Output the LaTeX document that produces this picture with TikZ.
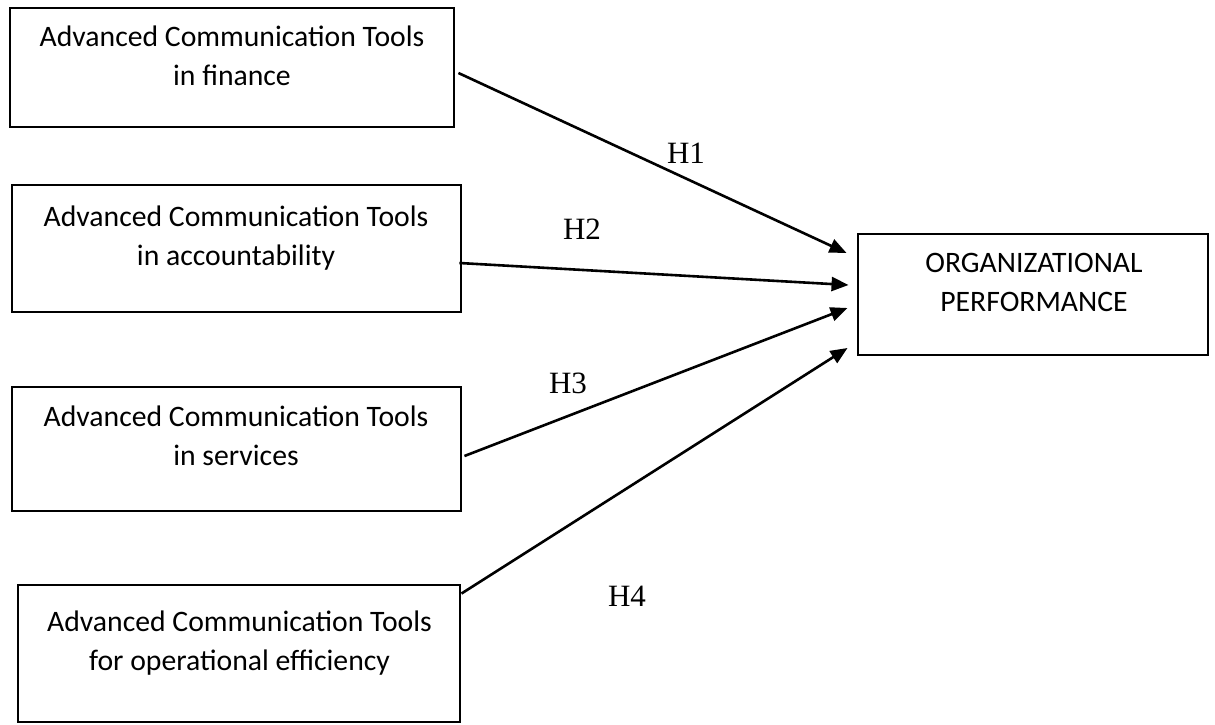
\documentclass[tikz,border=0pt]{standalone}
\usepackage{fontspec}
\setmainfont{Carlito}
\newfontfamily\hfont{Liberation Serif}
\usetikzlibrary{arrows.meta,calc}
\tikzset{
  box/.style={draw=black, line width=2.9pt, fill=none, inner sep=0pt},
  boxtext/.style={align=center, inner sep=0pt, font=\fontsize{29.7}{38.5}\selectfont},
  hlabel/.style={inner sep=0pt, font=\hfont\fontsize{31}{31}\selectfont},
  conn/.style={line width=2.6pt, -{Triangle[length=17pt,width=14pt]}}
}
\begin{document}
\begin{tikzpicture}[x=1pt,y=-1pt]
\useasboundingbox (0,0) rectangle (1215,724);
\fill[white] (0,0) rectangle (1215,724);
% boxes
\node[box, minimum width=444pt, minimum height=119pt] (b1) at (232,67.5) {};
\node[box, minimum width=449pt, minimum height=127pt] (b2) at (236.5,248.5) {};
\node[box, minimum width=449pt, minimum height=124pt] (b3) at (236.5,449) {};
\node[box, minimum width=442pt, minimum height=137pt] (b4) at (239,653.5) {};
\node[box, minimum width=350pt, minimum height=121pt] (op) at (1033,294.5) {};
% texts
\node[boxtext] (t1) at (232,58.5) {\strut Advanced Communication Tools\\\strut in finance};
\node[boxtext] (t2) at (236,238.5) {\strut Advanced Communication Tools\\\strut in accountability};
\node[boxtext] (t3) at (236,438.5) {\strut Advanced Communication Tools\\\strut in services};
\node[boxtext] (t4) at (239.5,643.5) {\strut Advanced Communication Tools\\\strut for operational efficiency};
\node[boxtext] (t5) at (1034,284.5) {\strut ORGANIZATIONAL\\\strut PERFORMANCE};
% connector end points
\coordinate (s1) at ($(b1.east)+(3,5.5)$);
\coordinate (s2) at ($(b2.east)+(-3,14.5)$);
\coordinate (s3) at ($(b3.east)+(2,7)$);
\coordinate (s4) at ($(b4.north east)+(0,10)$);
\coordinate (e1) at ($(op.west)+(-10,-41.5)$);
\coordinate (e2) at ($(op.west)+(-8,-9.5)$);
\coordinate (e3) at ($(op.west)+(-9,13.5)$);
\coordinate (e4) at ($(op.west)+(-9,53.5)$);
\draw[conn] (s1) -- (e1);
\draw[conn] (s2) -- (e2);
\draw[conn] (s3) -- (e3);
\draw[conn] (s4) -- (e4);
% labels
\node[hlabel] (h1) at (686,153) {H1};
\node[hlabel] (h2) at (582,229) {H2};
\node[hlabel] (h3) at (568,383) {H3};
\node[hlabel] (h4) at (627,596) {H4};
\end{tikzpicture}
\end{document}
